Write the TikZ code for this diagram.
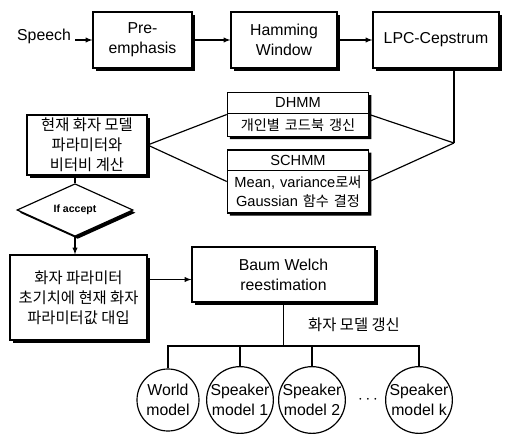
\documentclass[tikz,border=0pt]{standalone}
\usepackage{fontspec}
\setmainfont{Liberation Sans}
\newfontfamily\kr{Noto Sans CJK KR}[Scale=0.97]
\usetikzlibrary{shapes.geometric,shapes.multipart,shadows}
\begin{document}
\begin{tikzpicture}[x=0.3mm,y=-0.3mm,line width=1pt,
    font=\fontsize{13.5}{17}\selectfont,
    kor/.style={font=\fontsize{13.5}{17}\selectfont\kr},
    box/.style={draw,fill=white,align=center,inner sep=2pt,
      drop shadow={shadow xshift=0.8mm,shadow yshift=-0.8mm,fill=black,opacity=1}},
    splitbox/.style={box,rectangle split,rectangle split parts=2,text width=41mm,
      inner ysep=4pt,font=\fontsize{12.5}{16}\selectfont},
    model/.style={draw,circle,fill=white,align=center,inner sep=0pt,minimum size=18.6mm}]
    \useasboundingbox (0,0) rectangle (509,437);
    % front end
    \node (sp) at (44,36) {Speech};
    \node[box,minimum width=29.7mm,minimum height=16.8mm] (pre) at (142.5,40) {Pre-\\emphasis};
    \node[box,minimum width=31.8mm,minimum height=16.8mm] (ham) at (284,40) {Hamming\\Window};
    \node[box,minimum width=37.8mm,minimum height=16.8mm] (lpc) at (436,40) {LPC-Cepstrum};
    \draw[->,>=latex] (sp.east |- pre.west) -- (pre.west);
    \draw[->,>=latex] (pre.east) -- (ham.west);
    \draw[->,>=latex] (ham.east) -- (lpc.west);
    % models
    \node[splitbox] (dhmm) at (298,114.5) {DHMM\nodepart{two}{\kr 개인별 코드북 갱신}};
    \node[splitbox] (schmm) at (298,181.5) {SCHMM\nodepart{two}Mean, variance{\kr 로써}\\Gaussian {\kr 함수 결정}};
    \coordinate (lj) at (454,143);
    \draw (lpc.south -| lj) -- (lj);
    \draw (lj) -- (dhmm.east);
    \draw (lj) -- (schmm.east);
    \node[box,kor,minimum width=36mm,minimum height=18mm] (cur) at (87,145) {현재 화자 모델\\파라미터와\\비터비 계산};
    \draw (cur.east) -- (dhmm.west);
    \draw (cur.east) -- (schmm.west);
    \node[box,diamond,inner sep=0pt,minimum width=34.8mm,minimum height=10.2mm,
      font=\fontsize{9}{10}\selectfont\bfseries] (acc) at (75,210) {If accept};
    \draw (cur.south -| acc.north) -- (acc.north);
    \node[box,kor,minimum width=41.1mm,minimum height=25.5mm] (init) at (78.5,297.5) {화자 파라미터\\초기치에 현재 화자\\파라미터값 대입};
    \draw[->,>=latex] (acc.south) -- (acc.south |- init.north);
    \node[box,minimum width=54.9mm,minimum height=16.5mm] (bw) at (283.5,274.5) {Baum Welch\\reestimation};
    \draw[->,>=latex] ([yshift=-1.5mm]bw.west -| init.east) -- ([yshift=-1.5mm]bw.west);
    % speaker models
    \coordinate (bus) at (283.5,346);
    \node[model] (wm) at (168,400) {World\\model};
    \node[model] (sm1) at (240,400) {Speaker\\model 1};
    \node[model] (sm2) at (312,400) {Speaker\\model 2};
    \node[model] (smk) at (419,400) {Speaker\\model k};
    \node (dots) at (368,400) {$\cdots$};
    \node[kor] (upd) at (354,325) {화자 모델 갱신};
    \draw (bw.south) -- (bus);
    \draw (wm.north) |- (bus) -| (smk.north);
    \draw (sm1.north) -- (sm1.north |- bus);
    \draw (sm2.north) -- (sm2.north |- bus);
\end{tikzpicture}
\end{document}
